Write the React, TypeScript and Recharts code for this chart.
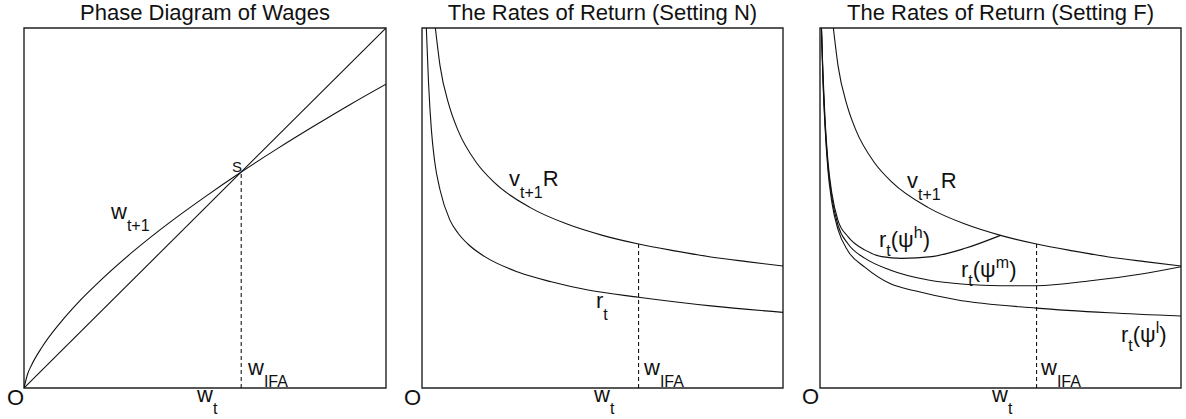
import React from "react";
import {
  Customized,
  Line,
  LineChart,
  ReferenceArea,
  ReferenceLine,
  XAxis,
  YAxis,
} from "recharts";

// panel 1: phase diagram
const wageX = [0, 0.01, 0.02, 0.05, 0.1, 0.15, 0.2, 0.3, 0.4, 0.5, 0.6, 0.7, 0.8, 0.9, 1];
const wageNext = [0, 0.039, 0.062, 0.114, 0.181, 0.238, 0.288, 0.378, 0.458, 0.531, 0.6, 0.665, 0.727, 0.787, 0.844];
const diagX = [0, 1];
const diagY = [0, 1];

// v_{t+1}R, shared by panels 2 and 3
const vrX = [0.037, 0.05, 0.075, 0.1, 0.15, 0.2, 0.3, 0.4, 0.5, 0.6, 0.7, 0.8, 0.9, 1];
const vrY = [1.0, 0.895, 0.785, 0.715, 0.627, 0.571, 0.501, 0.456, 0.424, 0.4, 0.381, 0.364, 0.351, 0.339];

// panel 2: r_t
const rX = [0.012, 0.018, 0.026, 0.035, 0.05, 0.077, 0.1, 0.127, 0.174, 0.266, 0.358, 0.46, 0.6, 0.8, 1];
const rY = [1.0, 0.85, 0.717, 0.63, 0.55, 0.467, 0.43, 0.4, 0.365, 0.322, 0.295, 0.272, 0.252, 0.228, 0.21];

// panel 3: r_t(psi) for h, m, l
const hX = [0.004, 0.008, 0.014, 0.022, 0.033, 0.05, 0.078, 0.125, 0.171, 0.226, 0.31, 0.402, 0.5];
const hY = [1.0, 0.88, 0.745, 0.63, 0.54, 0.465, 0.42, 0.383, 0.365, 0.36, 0.365, 0.388, 0.424];
const mX = [0.004, 0.008, 0.014, 0.022, 0.033, 0.05, 0.078, 0.125, 0.194, 0.3, 0.4, 0.5, 0.6, 0.75, 0.886, 1];
const mY = [1.0, 0.87, 0.735, 0.618, 0.528, 0.452, 0.4, 0.36, 0.328, 0.3, 0.288, 0.284, 0.284, 0.298, 0.316, 0.337];
const lX = [0.004, 0.008, 0.014, 0.022, 0.033, 0.05, 0.078, 0.125, 0.194, 0.263, 0.378, 0.6, 0.8, 1];
const lY = [1.0, 0.86, 0.725, 0.605, 0.515, 0.44, 0.38, 0.335, 0.29, 0.27, 0.245, 0.222, 0.209, 0.2];

const wIFA = 0.6;

const zip = (xs: number[], ys: number[]) => xs.map((x, i) => ({ x, y: ys[i] }));

const FONT = "'Liberation Sans', Arial, Helvetica, sans-serif";
const INK = "#111";

type Series = { key: string; data: { x: number; y: number }[]; type: "linear" | "monotone" };

function Panel({
  left,
  width,
  ml,
  mr,
  title,
  series,
  dashTop,
  labels,
}: {
  left: number;
  width: number;
  ml: number;
  mr: number;
  title: string;
  series: Series[];
  dashTop: number;
  labels: React.ReactNode;
}) {
  const titleX = ml + (width - ml - mr) / 2;
  return (
    <div style={{ position: "absolute", left, top: 0 }}>
      <LineChart width={width} height={419} margin={{ top: 28, bottom: 31, left: ml, right: mr }}>
        <XAxis type="number" dataKey="x" domain={[0, 1]} hide allowDataOverflow />
        <YAxis type="number" dataKey="y" domain={[0, 1]} hide allowDataOverflow />
        <ReferenceArea x1={0} x2={1} y1={0} y2={1} fill="none" fillOpacity={0} stroke="#222" strokeWidth={1.4} />
        {series.map((s) => (
          <Line
            key={s.key}
            data={s.data}
            dataKey="y"
            type={s.type}
            stroke={INK}
            strokeWidth={1.1}
            dot={false}
            activeDot={false}
            isAnimationActive={false}
          />
        ))}
        <ReferenceLine
          segment={[
            { x: wIFA, y: 0 },
            { x: wIFA, y: dashTop },
          ]}
          stroke="#000"
          strokeWidth={1}
          strokeDasharray="4 3"
        />
        <Customized
          component={() => (
            <g fontFamily={FONT} fill="#111">
              <text x={titleX} y={20} textAnchor="middle" fontSize={22}>
                {title}
              </text>
              <g transform={`translate(${-left},0)`}>{labels}</g>
            </g>
          )}
        />
      </LineChart>
    </div>
  );
}

function Sub({ x, y, main, sub, tail }: { x: number; y: number; main: string; sub: string; tail?: string }) {
  return (
    <text x={x} y={y} fontSize={22}>
      {main}
      <tspan dy={12} fontSize={16}>
        {sub}
      </tspan>
      {tail ? <tspan dy={-12}>{tail}</tspan> : null}
    </text>
  );
}

function Rpsi({ x, y, sup }: { x: number; y: number; sup: string }) {
  return (
    <text x={x} y={y} fontSize={22}>
      r
      <tspan dy={9} fontSize={16}>
        t
      </tspan>
      <tspan dy={-9}>(ψ</tspan>
      <tspan dy={-9} fontSize={16}>
        {sup}
      </tspan>
      <tspan dy={9}>)</tspan>
    </text>
  );
}

export default function App() {
  return (
    <div style={{ position: "absolute", left: 0, top: 0, width: 1186, height: 419, background: "#fff" }}>
      <Panel
        left={0}
        width={400}
        ml={24}
        mr={14}
        title="Phase Diagram of Wages"
        dashTop={0.6}
        series={[
          { key: "diag", data: zip(diagX, diagY), type: "linear" },
          { key: "wage", data: zip(wageX, wageNext), type: "monotone" },
        ]}
        labels={
          <>
            <Sub x={111} y={219} main="w" sub="t+1" />
            <text x={232} y={172} fontSize={15}>S</text>
            <Sub x={248} y={375} main="w" sub="IFA" />
            <Sub x={197} y={402} main="w" sub="t" />
            <text x={7} y={405} fontSize={22}>O</text>
          </>
        }
      />
      <Panel
        left={400}
        width={400}
        ml={22}
        mr={17}
        title="The Rates of Return (Setting N)"
        dashTop={0.4}
        series={[
          { key: "vr", data: zip(vrX, vrY), type: "monotone" },
          { key: "r", data: zip(rX, rY), type: "monotone" },
        ]}
        labels={
          <>
            <Sub x={509} y={186} main="v" sub="t+1" tail="R" />
            <Sub x={596} y={308} main="r" sub="t" />
            <Sub x={644} y={375} main="w" sub="IFA" />
            <Sub x={594} y={402} main="w" sub="t" />
            <text x={404} y={405} fontSize={22}>O</text>
          </>
        }
      />
      <Panel
        left={790}
        width={396}
        ml={30}
        mr={5}
        title="The Rates of Return (Setting F)"
        dashTop={0.4}
        series={[
          { key: "vr", data: zip(vrX, vrY), type: "monotone" },
          { key: "h", data: zip(hX, hY), type: "monotone" },
          { key: "m", data: zip(mX, mY), type: "monotone" },
          { key: "l", data: zip(lX, lY), type: "monotone" },
        ]}
        labels={
          <>
            <Sub x={907} y={188} main="v" sub="t+1" tail="R" />
            <Rpsi x={879} y={247} sup="h" />
            <Rpsi x={961} y={277} sup="m" />
            <Rpsi x={1121} y={342} sup="l" />
            <Sub x={1041} y={375} main="w" sub="IFA" />
            <Sub x={992} y={402} main="w" sub="t" />
            <text x={802} y={404} fontSize={22}>O</text>
          </>
        }
      />
    </div>
  );
}
